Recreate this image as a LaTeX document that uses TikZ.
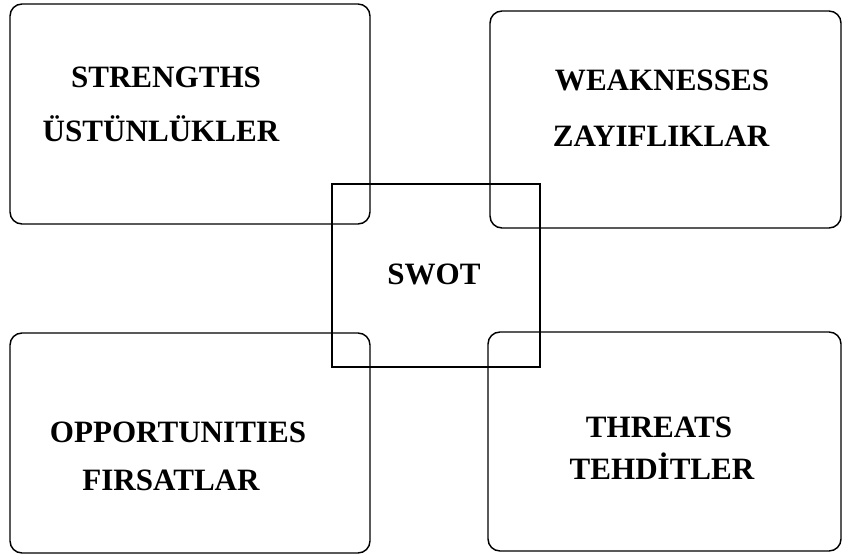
\documentclass[tikz,border=0pt]{standalone}
\usepackage{fontspec}
\setmainfont{Liberation Serif}
\tikzset{
	boxline/.style={draw=black, line width=1.1pt, rounded corners=9pt},
	swotline/.style={draw=black, line width=1.1pt},
	lbl/.style={anchor=base, inner sep=0pt, font=\fontsize{23.3}{28}\selectfont\bfseries}
}
\begin{document}
\begin{tikzpicture}[x=0.75pt, y=-0.75pt]
	\useasboundingbox (0,0) rectangle (843,556);
		
		% kutular
		\draw[boxline] (10,4) rectangle (370,224);
		\draw[boxline] (490,11) rectangle (841,228);
		\draw[boxline] (10,333) rectangle (370,553);
		\draw[boxline] (488,332) rectangle (841,551);
		
		% orta kare
		\draw[swotline] (332,184) rectangle (540,367);
		
		% yazilar
		\node[lbl] (str) at (166,88) {STRENGTHS};
		\node[lbl] (ust) at (161,142) {ÜSTÜNLÜKLER};
		\node[lbl] (wea) at (662,91) {WEAKNESSES};
		\node[lbl] (zay) at (661,147) {ZAYIFLIKLAR};
		\node[lbl] (swot) at (434,284) {SWOT};
		\node[lbl] (opp) at (178,442) {OPPORTUNITIES};
		\node[lbl] (fir) at (171,490) {FIRSATLAR};
		\node[lbl] (thr) at (659,437) {THREATS};
		\node[lbl] (teh) at (662,479) {TEHDİTLER};
		
\end{tikzpicture}
\end{document}
